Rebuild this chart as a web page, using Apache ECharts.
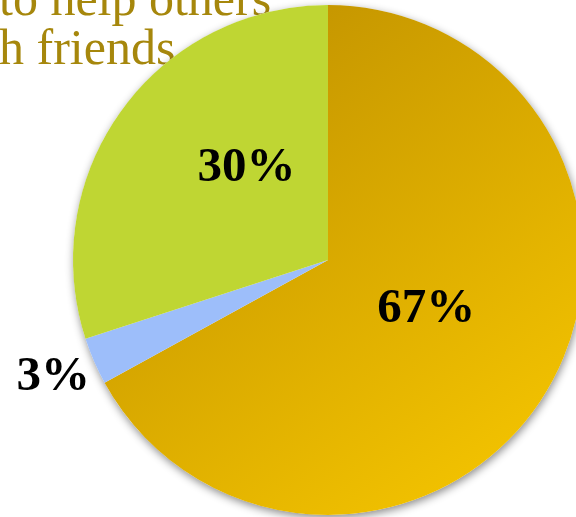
<!DOCTYPE html>
<html>
<head>
<meta charset="utf-8">
<script src="https://cdn.jsdelivr.net/npm/echarts@6/dist/echarts.min.js"></script>
<style>
  html, body { margin: 0; padding: 0; background: #ffffff; }
  #chart { width: 576px; height: 517px; }
</style>
</head>
<body>
<div id="chart"></div>
<script>
// Share of answers, in percent, going clockwise from 12 o'clock
const categories = ['Segment A', 'Segment B', 'Segment C'];
const shares = [67, 3, 30];

// Heading lines sitting behind the pie
const headingLines = ['to help others', 'h friends'];

// Slice fills
const sliceColors = [
  new echarts.graphic.LinearGradient(0.1, 0, 0.9, 1, [
    { offset: 0, color: '#BD8E00' },
    { offset: 1, color: '#F7C700' }
  ]),
  '#9DBEFA',
  '#BFD633'
];

// Fine placement of each percentage label (pixels, relative to default spot)
const labelShift = [[-14, -17], [-155, 66], [24, -15]];

const total = shares.reduce((a, b) => a + b, 0);
const pieCenter = [328, 260];
const pieRadius = 255;

const chart = echarts.init(document.getElementById('chart'), null, { renderer: 'canvas' });

chart.setOption({
  animation: false,
  backgroundColor: '#ffffff',
  graphic: [
    {
      type: 'text',
      left: -1,
      top: -23,
      z: 0,
      style: {
        text: headingLines.join('\n'),
        fontFamily: 'Liberation Serif',
        fontSize: 50,
        lineHeight: 49,
        fill: '#A6870C'
      }
    }
  ],
  series: [
    {
      // soft drop shadow under the whole disc
      type: 'pie',
      z: 1,
      silent: true,
      center: pieCenter,
      radius: pieRadius,
      startAngle: 90,
      label: { show: false },
      labelLine: { show: false },
      emphasis: { disabled: true },
      itemStyle: {
        color: '#ffffff',
        shadowBlur: 9,
        shadowColor: 'rgba(0,0,0,0.45)',
        shadowOffsetX: 1,
        shadowOffsetY: 3
      },
      data: [{ name: 'all', value: total }]
    },
    {
      type: 'pie',
      z: 2,
      center: pieCenter,
      radius: pieRadius,
      startAngle: 90,
      clockwise: true,
      avoidLabelOverlap: false,
      emphasis: { disabled: true },
      itemStyle: { borderWidth: 0 },
      label: {
        show: true,
        position: 'inside',
        formatter: '{c}%',
        color: '#000000',
        fontFamily: 'Liberation Serif',
        fontWeight: 'bold',
        fontSize: 49
      },
      labelLine: { show: false },
      labelLayout: function (params) {
        const s = labelShift[params.dataIndex];
        return { dx: s[0], dy: s[1] };
      },
      data: categories.map((name, i) => ({
        name: name,
        value: shares[i],
        itemStyle: { color: sliceColors[i] }
      }))
    }
  ]
});
</script>
</body>
</html>
